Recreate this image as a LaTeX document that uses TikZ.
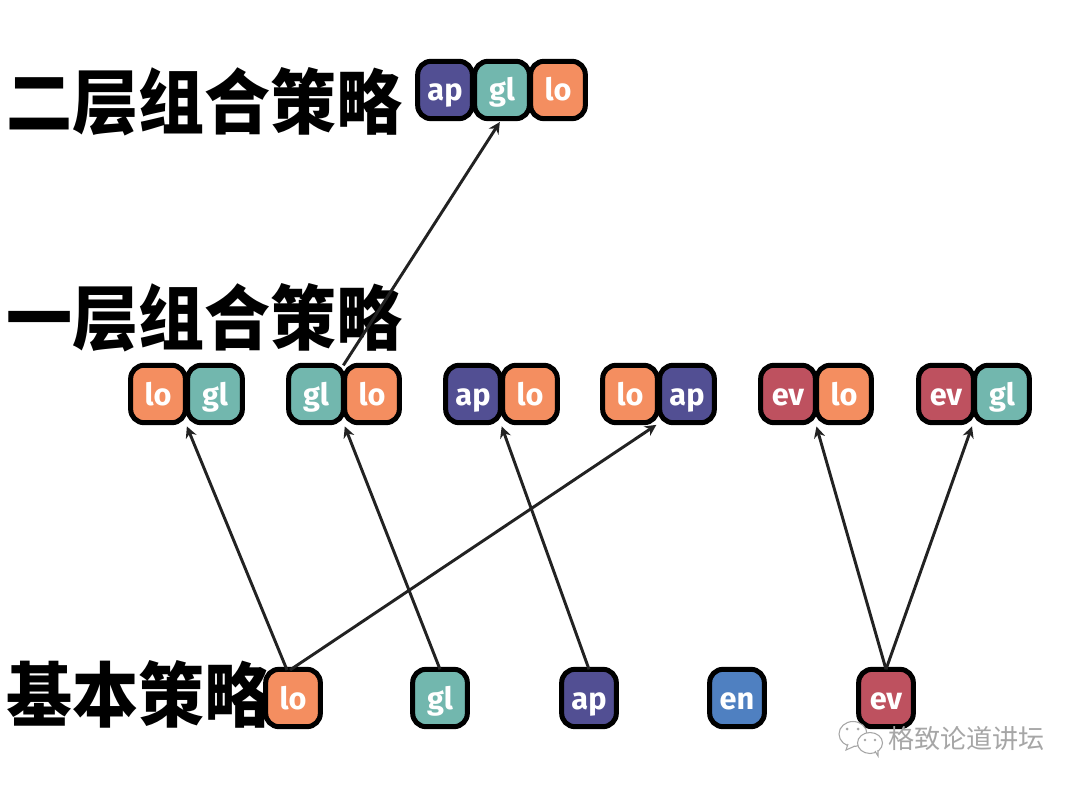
\documentclass[tikz,border=0pt]{standalone}
\usepackage{fontspec}
\usetikzlibrary{arrows.meta}
\setmainfont{Fira Sans}
\newfontfamily\cjkheavy{Noto Sans CJK SC Black}
\newfontfamily\cjklight{Noto Sans CJK SC}
\definecolor{cLo}{HTML}{F48E60}
\definecolor{cGl}{HTML}{72B7AE}
\definecolor{cAp}{HTML}{524F93}
\definecolor{cEn}{HTML}{4F80C1}
\definecolor{cEv}{HTML}{BE515F}
\definecolor{cLine}{HTML}{222222}
\definecolor{cMark}{HTML}{A6A6A6}
\tikzset{
  chip/.style={draw=black,line width=3.75pt,rounded corners=10pt,outer sep=0pt,inner sep=0pt,
    minimum width=41pt,minimum height=43pt,text=white,
    font=\fontsize{23}{23}\selectfont\bfseries,text height=16.5pt,text depth=0pt},
  chiplo/.style={chip,fill=cLo},
  chipgl/.style={chip,fill=cGl},
  chipap/.style={chip,fill=cAp},
  chipen/.style={chip,fill=cEn},
  chipev/.style={chip,fill=cEv},
  leveltitle/.style={anchor=west,inner sep=0pt,font=\cjkheavy\fontsize{49.5}{50}\selectfont},
  linkarrow/.style={draw=cLine,line width=2.2pt,shorten >=3pt,
    -{Stealth[length=8.5pt,width=8.5pt]}},
  watermark/.style={anchor=west,inner sep=0pt,text=cMark,font=\cjklight\fontsize{19.6}{20}\selectfont},
  bubble/.style={draw=cMark,line width=.8pt,fill=white}
}
\newcommand{\tallglyphs}[1]{\scalebox{1}[1.07]{#1}}
\begin{document}
\begin{tikzpicture}[x=0.75pt,y=-0.75pt]
\useasboundingbox (0,0) rectangle (1080,787);
% level titles
\node[leveltitle] (t2) at (6,102) {\tallglyphs{二层组合策略}};
\node[leveltitle] (t1) at (6,318) {\tallglyphs{一层组合策略}};
\node[leveltitle] (t0) at (6,694) {\tallglyphs{基本策略}};
\coordinate (srcA) at (287,670);
\coordinate (srcB) at (290,670);
% top
\node[chipap] (ta) at (445,90) {ap};
\node[chipgl] (tg) at (502,90) {gl};
\node[chiplo] (tl) at (558,90) {lo};
% middle row
\node[chiplo] (a1) at (158,394) {lo};
\node[chipgl] (a2) at (215,394) {gl};
\node[chipgl] (b1) at (316,394) {gl};
\node[chiplo] (b2) at (372,394) {lo};
\node[chipap] (c1) at (473,394) {ap};
\node[chiplo] (c2) at (530,394) {lo};
\node[chiplo] (d1) at (630,394) {lo};
\node[chipap] (d2) at (687,394) {ap};
\node[chipev] (e1) at (788,394) {ev};
\node[chiplo] (e2) at (844,394) {lo};
\node[chipev] (f1) at (946,394) {ev};
\node[chipgl] (f2) at (1002,394) {gl};
% base row
\node[chiplo] (blo) at (293,698) {lo};
\node[chipgl] (bgl) at (440,698) {gl};
\node[chipap] (bap) at (589,698) {ap};
\node[chipen] (ben) at (737,698) {en};
\node[chipev] (bev) at (886,698) {ev};
% connectors
\draw[linkarrow] (srcA) -- (a1.south east);
\draw[linkarrow] (bgl.north) -- (b1.south east);
\draw[linkarrow] (bap.north) -- (c1.south east);
\draw[linkarrow] (srcB) -- (d2.south west);
\draw[linkarrow] (bev.north) -- (e1.south east);
\draw[linkarrow] (bev.north) -- (f1.south east);
\draw[linkarrow] (b1.north east) -- (tg.south);
% watermark
\draw[bubble] (853,734) ellipse (14 and 12.5);
\draw[bubble] (848,744) -- (846,750) -- (855,746);
\draw[bubble] (870,743) ellipse (12.5 and 10.5);
\draw[bubble] (875,751) -- (878,756) -- (878,750);
\fill[cMark] (847,729) circle (1.5) (858,729) circle (1.5) (865,740) circle (1.3) (875,740) circle (1.3);
\node[watermark] (wm) at (888,739) {格致论道讲坛};
\end{tikzpicture}
\end{document}
